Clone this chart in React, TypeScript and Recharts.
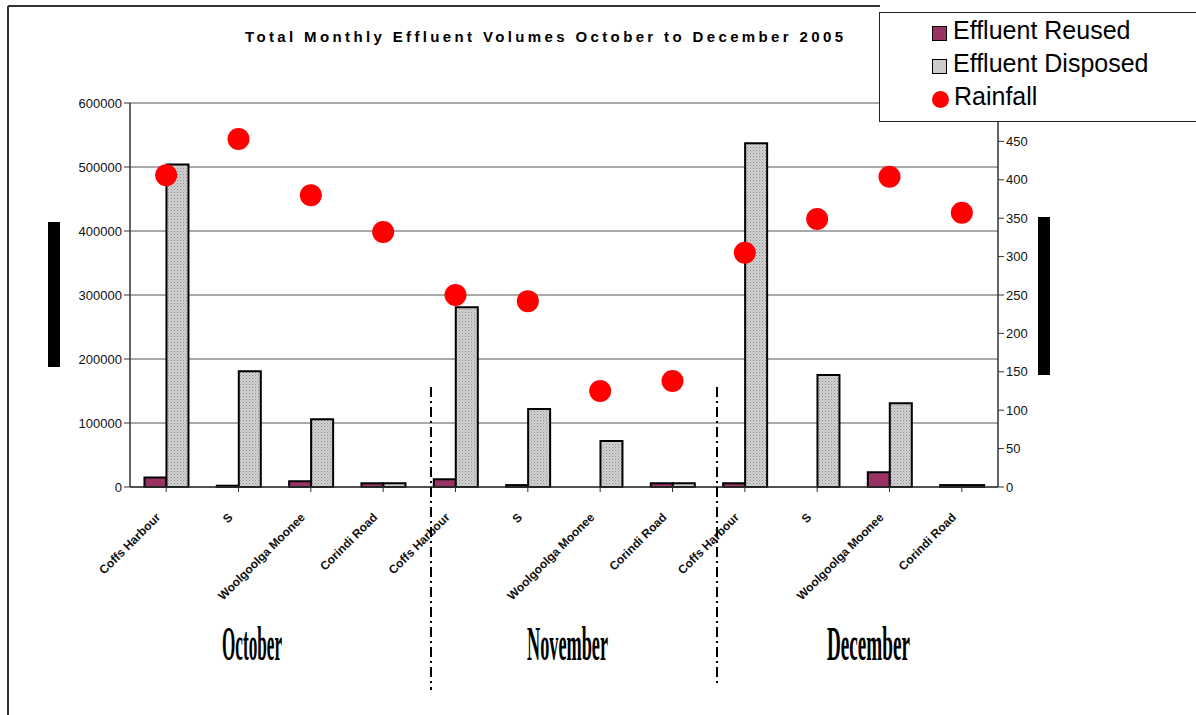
import React from "react"
import { Bar, CartesianGrid, ComposedChart, Scatter, XAxis, YAxis } from "recharts"

const months = ["October", "November", "December"]
const sites = ["Coffs Harbour", "S", "Woolgoolga Moonee", "Corindi Road"]
const reused = [15000, 2000, 9000, 6000, 12000, 3000, 0, 6000, 6000, 0, 23000, 3000]
const disposed = [504000, 181000, 106000, 6000, 281000, 122000, 72000, 6000, 537000, 175000, 131000, 3000]
const rainfall = [406, 453, 380, 332, 250, 242, 125, 138, 305, 349, 404, 357]
const volumeTicks = [0, 100000, 200000, 300000, 400000, 500000, 600000]
const rainTicks = [0, 50, 100, 150, 200, 250, 300, 350, 400, 450]

const rows = months.flatMap((month, m) =>
  sites.map((site, s) => {
    const i = m * 4 + s
    return {
      key: `${month}-${i}`,
      site,
      month,
      reused: reused[i],
      disposed: disposed[i],
      rainfall: rainfall[i],
    }
  })
)

const SiteTick = (props: any) => {
  const { x, y, payload } = props
  const name = rows[payload.index]?.site ?? ""
  return (
    <text
      transform={`translate(${x - 5},${y + 24}) rotate(-45)`}
      textAnchor="end"
      fontFamily="Arial, Liberation Sans, sans-serif"
      fontWeight="bold"
      fontSize={12}
      fill="#111"
    >
      {name}
    </text>
  )
}

const Dot = (props: any) => <circle cx={props.cx} cy={props.cy} r={11} fill="#ff0000" />

const legendItems = [
  { name: "Effluent Reused", kind: "reused" },
  { name: "Effluent Disposed", kind: "disposed" },
  { name: "Rainfall", kind: "rain" },
]

export default function App() {
  return (
    <div style={{ position: "relative", width: 1196, height: 715, background: "#fff", overflow: "hidden" }}>
      <style>{"body{margin:0}"}</style>
      <svg width={0} height={0} style={{ position: "absolute" }}>
        <defs>
          <pattern id="grayDots" width={3} height={3} patternUnits="userSpaceOnUse">
            <rect width={3} height={3} fill="#d2d2d2" />
            <rect width={1} height={1} fill="#8e8e8e" />
            <rect x={1.5} y={1.5} width={1} height={1} fill="#a8a8a8" />
          </pattern>
        </defs>
      </svg>
      <ComposedChart
        width={1196}
        height={715}
        data={rows}
        margin={{ top: 103, right: 138, bottom: 0, left: 70 }}
        barGap={0}
        barCategoryGap="20%"
      >
        <CartesianGrid vertical={false} stroke="#555" strokeWidth={1} yAxisId="left" />
        <XAxis
          dataKey="key"
          height={228}
          interval={0}
          tick={<SiteTick />}
          tickLine={{ stroke: "#333" }}
          axisLine={{ stroke: "#333", strokeWidth: 1.5 }}
          tickSize={5}
        />
        <YAxis
          yAxisId="left"
          width={60}
          domain={[0, 600000]}
          ticks={volumeTicks}
          tick={{ fontFamily: "Arial, Liberation Sans, sans-serif", fontSize: 13, fill: "#111" }}
          tickLine={{ stroke: "#333" }}
          axisLine={{ stroke: "#333", strokeWidth: 1.5 }}
        />
        <YAxis
          yAxisId="right"
          orientation="right"
          width={60}
          domain={[0, 500]}
          ticks={rainTicks}
          tick={{ fontFamily: "Arial, Liberation Sans, sans-serif", fontSize: 13, fill: "#111" }}
          tickLine={{ stroke: "#333" }}
          axisLine={{ stroke: "#333", strokeWidth: 1.5 }}
        />
        <Bar yAxisId="left" dataKey="reused" fill="#993366" stroke="#000" strokeWidth={2} isAnimationActive={false} />
        <Bar yAxisId="left" dataKey="disposed" fill="url(#grayDots)" stroke="#000" strokeWidth={2} isAnimationActive={false} />
        <Scatter yAxisId="right" dataKey="rainfall" shape={<Dot />} isAnimationActive={false} />
      </ComposedChart>

      <svg
        width={1196}
        height={715}
        style={{ position: "absolute", left: 0, top: 0, pointerEvents: "none" }}
      >
        <line x1={8} y1={6} x2={880} y2={6} stroke="#333" strokeWidth={2} />
        <line x1={8} y1={6} x2={8} y2={715} stroke="#333" strokeWidth={2} />
        <text
          x={245}
          y={42}
          textLength={598}
          lengthAdjust="spacing"
          fontFamily="Arial, Liberation Sans, sans-serif"
          fontWeight="bold"
          fontSize={15}
          fill="#000"
        >
          Total Monthly Effluent Volumes October to December 2005
        </text>
        <rect x={48} y={222} width={12} height={145} fill="#000" />
        <rect x={1038} y={217} width={12} height={158} fill="#000" />
        <line x1={431} y1={387} x2={431} y2={690} stroke="#000" strokeWidth={2} strokeDasharray="10 4 2 4" />
        <line x1={717} y1={387} x2={717} y2={685} stroke="#000" strokeWidth={2} strokeDasharray="10 4 2 4" />
        {months.map((month, m) => (
          <text
            key={month}
            x={[222, 527, 827][m]}
            y={660}
            textLength={[60, 81, 83][m]}
            lengthAdjust="spacingAndGlyphs"
            fontFamily="Liberation Serif, serif"
            fontWeight="bold"
            fontSize={48}
            fill="#000"
          >
            {month}
          </text>
        ))}
      </svg>

      <div
        style={{
          position: "absolute",
          left: 879,
          top: 12,
          width: 330,
          height: 108,
          border: "1.5px solid #222",
          background: "#fff",
          fontFamily: "Arial, Liberation Sans, sans-serif",
          fontSize: 25,
          color: "#000",
        }}
      >
        {legendItems.map((item, i) => (
          <div
            key={item.name}
            style={{ position: "absolute", left: 52, top: 2 + i * 33, height: 30, display: "flex", alignItems: "center" }}
          >
            {item.kind === "rain" ? (
              <span style={{ width: 17, height: 17, borderRadius: "50%", background: "#ff0000", marginRight: 5, marginTop: 6 }} />
            ) : (
              <span
                style={{
                  width: 13,
                  height: 13,
                  border: "1.5px solid #000",
                  background: item.kind === "reused" ? "#993366" : "#cccccc",
                  marginRight: 6,
                  marginTop: 6,
                }}
              />
            )}
            <span>{item.name}</span>
          </div>
        ))}
      </div>
    </div>
  )
}
